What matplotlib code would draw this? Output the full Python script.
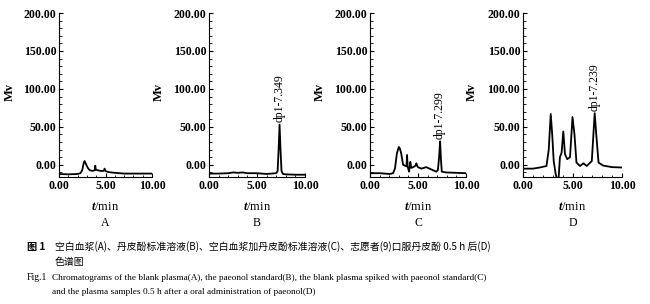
import matplotlib
matplotlib.use("Agg")
import matplotlib.pyplot as plt
from matplotlib.ticker import MultipleLocator, FormatStrFormatter

plt.rcParams['font.family'] = ['Liberation Serif', 'DejaVu Serif']
plt.rcParams['mathtext.fontset'] = 'custom'
plt.rcParams['mathtext.it'] = 'Liberation Serif:italic:bold'
plt.rcParams['mathtext.rm'] = 'Liberation Serif:bold'

# chromatogram traces (t in min, signal in mV)
t_a = [0, 1.0, 2.0, 2.3, 2.5, 2.65, 2.75, 2.9, 3.1, 3.3, 3.6, 3.85, 3.9, 3.95, 4.1, 4.5, 4.8, 4.9, 5.0, 5.3, 6.0, 7.0, 8.0, 10.0]
v_a = [-12, -12.5, -12, -11, -7, 2, 5, 1, -4, -7, -8, -7, -1, -6, -7, -8, -8, -5, -8, -9.5, -10.5, -11.5, -11.5, -11.5]

t_b = [0, 1, 2, 2.5, 3, 3.5, 4, 5, 6, 6.5, 7.0, 7.15, 7.25, 7.35, 7.45, 7.55, 7.7, 8.0, 9, 10]
v_b = [-11.5, -11.5, -11, -10, -10.5, -10, -11, -11, -12, -11.5, -11, -8, 20, 53, 20, -8, -12, -12.5, -13, -13]

t_c = [0, 1.0, 2.07, 2.4, 2.6, 2.8, 3.0, 3.1, 3.25, 3.45, 3.8, 3.86, 3.92, 4.07, 4.2, 4.3, 4.5, 4.75, 4.83, 4.9, 5.0, 5.34, 5.86, 6.2, 6.9, 7.07, 7.2, 7.3, 7.4, 7.48, 7.93, 10.0]
v_c = [-11, -11, -12, -11, -5, 15, 23.5, 22, 15, 0, -2, 13, -2, -9, 4, -4, -3, -1, 2, -1, -3, -5, -3, -5, -9, -7, 10, 31, 5, -9, -10, -11]

t_d = [0, 1.0, 1.7, 2.37, 2.6, 2.8, 2.95, 3.1, 3.3, 3.45, 3.56, 3.73, 3.9, 4.07, 4.24, 4.47, 4.75, 5.0, 5.2, 5.4, 5.76, 6.1, 6.44, 6.95, 7.24, 7.4, 7.63, 8.1, 9.0, 10.0]
v_d = [-5, -5, -3.5, -1.5, 20, 67, 40, 5, -12, -20, -25, 10, 16, 44, 14, 7.5, 10, 63, 40, 3, -1.5, 2, -1.5, 5, 68, 40, 3, -1, -3, -3.5]

panels = ['A', 'B', 'C', 'D']
peak_labels = [None, 'dp1-7.349', 'dp1-7.299', 'dp1-7.239']
peak_t = [None, 7.35, 7.30, 7.24]
peak_v = [None, 53, 31, 68]
traces = [(t_a, v_a), (t_b, v_b), (t_c, v_c), (t_d, v_d)]

W, H = 650, 304
fig = plt.figure(figsize=(W / 100, H / 100), dpi=100)

# axes boxes in pixel coords: left, right
boxes = [(59, 152), (209, 305), (370, 466), (523, 622)]
top, bottom = 13, 177

for i, (l, r) in enumerate(boxes):
    ax = fig.add_axes([l / W, 1 - bottom / H, (r - l) / W, (bottom - top) / H])
    t, v = traces[i]
    ax.plot(t, v, color='black', lw=1.3)
    ax.set_xlim(0, 10)
    ax.set_ylim(-16, 200)
    ax.spines['top'].set_visible(False)
    ax.spines['right'].set_visible(False)
    ax.xaxis.set_major_locator(MultipleLocator(5))
    ax.xaxis.set_minor_locator(MultipleLocator(1))
    ax.yaxis.set_major_locator(MultipleLocator(50))
    ax.yaxis.set_minor_locator(MultipleLocator(10))
    ax.xaxis.set_major_formatter(FormatStrFormatter('%.2f'))
    ax.yaxis.set_major_formatter(FormatStrFormatter('%.2f'))
    ax.tick_params(direction='in', length=3, width=0.8, labelsize=8.6, pad=2)
    ax.tick_params(which='minor', direction='in', length=1.8, width=0.6)
    for lab in ax.get_xticklabels() + ax.get_yticklabels():
        lab.set_fontweight('bold')
    ax.set_ylabel('Mv', fontsize=9, fontweight='bold')
    ax.yaxis.set_label_coords(-0.46, 0.52)
    ax.text(0.5, -0.18, r'$t$/min', transform=ax.transAxes, ha='center', va='center', fontsize=9)
    ax.text(0.5, -0.28, panels[i], transform=ax.transAxes, ha='center', va='center', fontsize=8.5)
    if peak_labels[i]:
        ax.text(peak_t[i], peak_v[i] + 3, peak_labels[i], rotation=90, ha='center', va='bottom', fontsize=8.5)

cjk = ['Noto Sans CJK SC', 'DejaVu Sans']
fig.text(27 / W, 1 - 247 / H, '图 1', family=cjk, fontsize=7.3, va='center', fontweight='bold')
fig.text(55 / W, 1 - 247 / H, '空白血浆(A)、丹皮酚标准溶液(B)、空白血浆加丹皮酚标准溶液(C)、志愿者(9)口服丹皮酚 0.5 h 后(D)',
         family=cjk, fontsize=7.1, va='center')
fig.text(55 / W, 1 - 262 / H, '色谱图', family=cjk, fontsize=7.1, va='center')
fig.text(27 / W, 1 - 278 / H, 'Fig.1', fontsize=7, va='center')
fig.text(52 / W, 1 - 278 / H, 'Chromatograms of the blank plasma(A), the paeonol standard(B), the blank plasma spiked with paeonol standard(C)',
         fontsize=6.7, va='center')
fig.text(52 / W, 1 - 292 / H, 'and the plasma samples 0.5 h after a oral administration of paeonol(D)',
         fontsize=6.7, va='center')

fig.savefig('out.png', dpi=100)
